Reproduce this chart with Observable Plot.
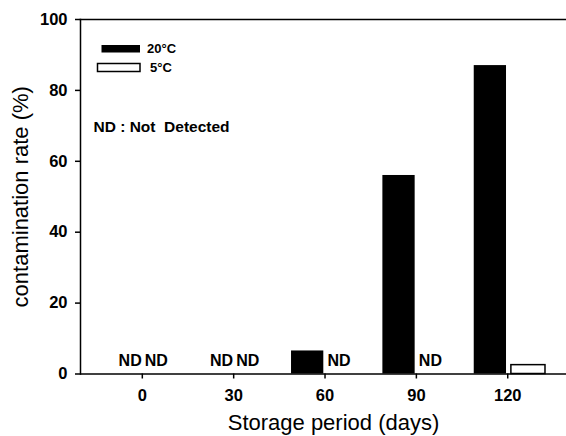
<!DOCTYPE html>
<html>
<head>
<meta charset="utf-8">
<script src="https://cdn.jsdelivr.net/npm/d3@7"></script>
<script src="https://cdn.jsdelivr.net/npm/@observablehq/plot@0.6"></script>
<style>
  html, body { margin: 0; padding: 0; background: #fff; }
  #chart { position: relative; width: 566px; height: 436px; }
</style>
</head>
<body>
<div id="chart"></div>
<script>
// ---- data ----
const periods = [0, 30, 60, 90, 120];           // storage period (days)
const rate20 = [null, null, 6.5, 56, 87];       // 20°C contamination rate (%), null = ND
const rate5  = [null, null, null, null, 2.5];   // 5°C contamination rate (%), null = ND
const yTicks = [0, 20, 40, 60, 80, 100];
const seriesNames = ["20°C", "5°C"];

const rows20 = periods.map((p, i) => ({period: p, rate: rate20[i]}));
const rows5  = periods.map((p, i) => ({period: p, rate: rate5[i]}));
const bars20 = rows20.filter(d => d.rate != null);
const bars5  = rows5.filter(d => d.rate != null);
const nd20 = rows20.filter(d => d.rate == null);
const nd5  = rows5.filter(d => d.rate == null);

const FONT = "'Liberation Sans', Arial, Helvetica, sans-serif";

const chart = Plot.plot({
  width: 566,
  height: 436,
  marginLeft: 80,
  marginRight: 0,
  marginTop: 19,
  marginBottom: 62.5,
  style: {fontFamily: FONT, background: "#fff", color: "#000", overflow: "visible"},
  x: {type: "linear", domain: [-20.3, 139.3]},
  y: {domain: [0, 100]},
  marks: [
    Plot.rect(bars20, {x1: d => d.period - 11, x2: d => d.period - 0.4, y1: 0, y2: "rate", fill: "#000"}),
    Plot.rect(bars5, {x1: d => d.period + 1.2, x2: d => d.period + 12.4, y1: 0, y2: "rate", fill: "#fff", stroke: "#000", strokeWidth: 1.5}),
    Plot.text(nd20, {x: d => d.period - 4, y: 0, dy: -13, text: () => "ND", fontSize: 16, fontWeight: "bold", fill: "#000"}),
    Plot.text(nd5, {x: d => d.period + 4.6, y: 0, dy: -13, text: () => "ND", fontSize: 16, fontWeight: "bold", fill: "#000"}),
    Plot.frame({anchor: "top", strokeWidth: 1.5}),
    Plot.frame({anchor: "left", strokeWidth: 1.5}),
    Plot.ruleY([0], {strokeWidth: 1.5}),
    Plot.axisY({ticks: yTicks, tickSize: 5, tickPadding: 8, fontSize: 16.5, fontWeight: "bold", label: null, strokeWidth: 1.5}),
    Plot.axisX({ticks: periods, tickSize: 5, tickPadding: 10, tickFormat: d => String(d), fontSize: 16.5, fontWeight: "bold", label: null, strokeWidth: 1.5}),
    Plot.text(["contamination rate (%)"], {frameAnchor: "left", textAnchor: "middle", lineAnchor: "middle", dx: -60, dy: 0, rotate: -90, fontSize: 22, fill: "#000", letterSpacing: "0.3px"}),
    Plot.text(["Storage period (days)"], {frameAnchor: "bottom", textAnchor: "middle", lineAnchor: "middle", dx: 10, dy: 49, fontSize: 22, fill: "#000", letterSpacing: "0.8px"}),
    Plot.text(["ND : Not  Detected"], {frameAnchor: "top-left", dx: 13, dy: 108, textAnchor: "start", lineAnchor: "middle", fontSize: 15.5, fontWeight: "bold", fill: "#000"})
  ]
});

// legend (inside the frame, top-left)
const svg = d3.select(chart);
const lg = svg.append("g").attr("font-family", FONT).attr("font-weight", "bold").attr("font-size", 13).attr("text-anchor", "start");
lg.append("rect").attr("x", 101.5).attr("y", 45).attr("width", 38.5).attr("height", 7.5).attr("fill", "#000");
lg.append("rect").attr("x", 97.5).attr("y", 63.5).attr("width", 42.5).attr("height", 8).attr("fill", "#fff").attr("stroke", "#000").attr("stroke-width", 1.5);
lg.append("text").attr("x", 147).attr("y", 53.2).text(seriesNames[0]);
lg.append("text").attr("x", 150).attr("y", 72.2).text(seriesNames[1]);
svg.selectAll("text").style("white-space", "pre");

document.getElementById("chart").appendChild(chart);
</script>
</body>
</html>
